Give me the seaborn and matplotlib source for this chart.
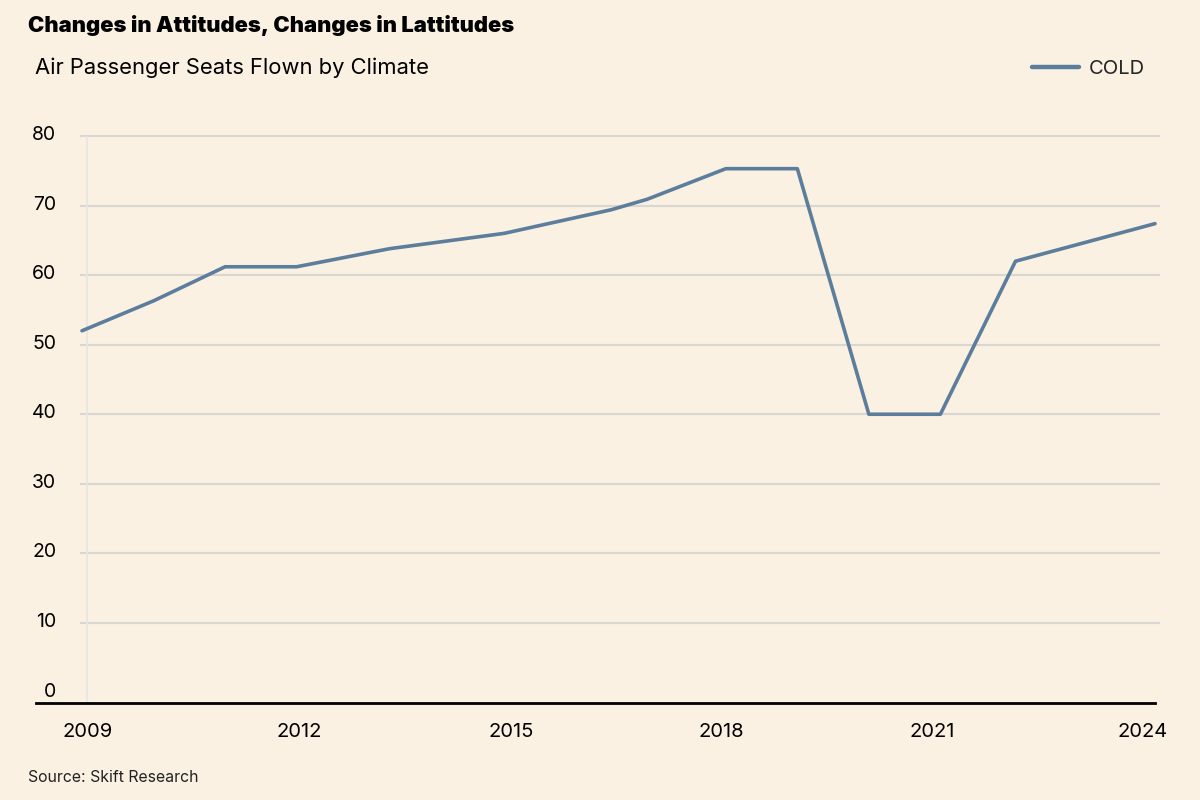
import matplotlib
matplotlib.use("Agg")
import matplotlib.pyplot as plt
import matplotlib.transforms as mtransforms
import seaborn as sns
import pandas as pd
from matplotlib.lines import Line2D

# Data (x as fractional years where vertices fall between ticks)
years = [2009.0, 2010.0, 2011.0, 2012.0, 2013.3, 2014.9, 2016.4, 2016.9,
         2018.0, 2019.0, 2020.0, 2021.0, 2022.05, 2024.0]
cold = [52.0, 56.3, 61.2, 61.2, 63.8, 66.0, 69.4, 70.9,
        75.3, 75.3, 40.0, 40.0, 62.0, 67.4]
series_name = "COLD"
x_ticks = [2009, 2012, 2015, 2018, 2021, 2024]
y_ticks = [0, 10, 20, 30, 40, 50, 60, 70, 80]

title = "Changes in Attitudes, Changes in Lattitudes"
subtitle = "Air Passenger Seats Flown by Climate"
source = "Source: Skift Research"

BG = "#FAF1E2"
LINE = "#5C7E9C"
GRID = "#D8D7D4"

df = pd.DataFrame({"year": years, "value": cold, "series": series_name})

sns.set_theme(style="white")
plt.rcParams["font.family"] = ["Inter", "DejaVu Sans"]

fig = plt.figure(figsize=(12, 8), dpi=100, facecolor=BG)
# axes spans pixel x 36..1160, y 130..703
ax = fig.add_axes([36 / 1200, 1 - 703 / 800, (1160 - 36) / 1200, (703 - 130) / 800])
ax.set_facecolor(BG)

px_per_year = (1155 - 82) / 15.0
xmin = 2009 - (82 - 36) / px_per_year
xmax = 2024 + (1160 - 1155) / px_per_year
ax.set_xlim(xmin, xmax)
px_per_unit = (623 - 136) / 70.0
y0 = 692.5
ax.set_ylim(-(703 - y0) / px_per_unit, 80 + (136 - 130) / px_per_unit)

# gridlines
grid_x0 = 2009 - (82 - 80) / px_per_year
for yv in y_ticks[1:]:
    ax.hlines(yv, grid_x0, xmax, color=GRID, lw=1.5, zorder=1)
ax.vlines(2009 + 5 / px_per_year, 0 - (703 - y0) / px_per_unit, 80, color="#E6E4E6", lw=1.2, zorder=1)

sns.lineplot(data=df, x="year", y="value", hue="series", palette=[LINE],
             linewidth=2.6, ax=ax, legend=False, zorder=3, sort=False)

for s in ["top", "right", "left"]:
    ax.spines[s].set_visible(False)
ax.spines["bottom"].set_color("black")
ax.spines["bottom"].set_linewidth(2.0)
ax.spines["bottom"].set_bounds(xmin, 2024)

ax.set_xticks(x_ticks)
ax.set_xticklabels([str(t) for t in x_ticks])
ax.set_yticks(y_ticks)
ax.set_yticklabels([str(t) for t in y_ticks])
ax.tick_params(axis="x", length=0, pad=14.5, labelsize=14.5, labelcolor="black")
ax.tick_params(axis="y", length=0, pad=-14.5, labelsize=14, labelcolor="black")
for lab in ax.get_yticklabels():
    lab.set_verticalalignment("center")
    lab.set_transform(lab.get_transform() + mtransforms.ScaledTranslation(0, 1 / 100, fig.dpi_scale_trans))
x_shift_px = {2009: 6, 2012: 3, 2015: 0, 2018: -4, 2021: -8, 2024: -12}
for t, lab in zip(x_ticks, ax.get_xticklabels()):
    lab.set_transform(lab.get_transform() + mtransforms.ScaledTranslation(x_shift_px[t] / 100, 0, fig.dpi_scale_trans))
ax.set_xlabel("")
ax.set_ylabel("")

# legend
handle = Line2D([0], [0], color=LINE, lw=3.2)
fig.legend([handle], [series_name], loc="center right",
           bbox_to_anchor=(1153 / 1200, 1 - 69 / 800), frameon=False,
           fontsize=14.5, handlelength=2.3, handletextpad=0.5, borderaxespad=0)

fig.text(28 / 1200, 1 - 25 / 800, title, fontsize=15.8, fontweight="black",
         va="center", ha="left", color="black")
fig.text(35 / 1200, 1 - 68 / 800, subtitle, fontsize=15.8, va="center", ha="left",
         color="black")
fig.text(28 / 1200, 1 - 778 / 800, source, fontsize=11.4, va="center", ha="left",
         color="#222222")

fig.savefig("out.png", dpi=100, facecolor=BG)
